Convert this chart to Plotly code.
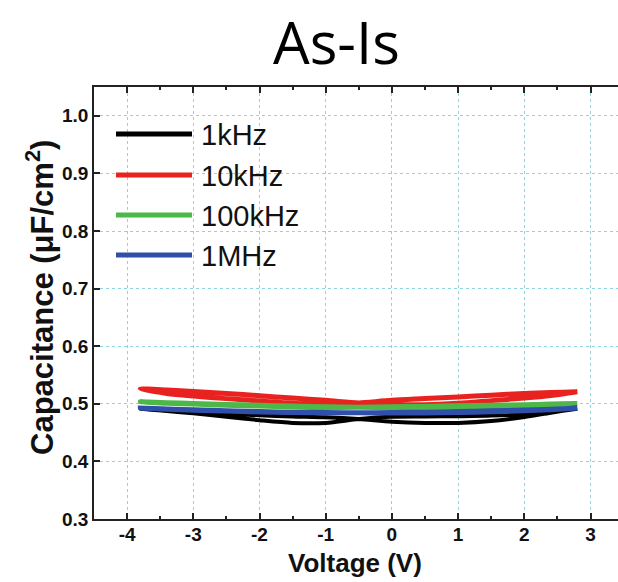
import plotly.graph_objects as go

# ---------------- data ----------------
voltage = [-3.8, -3.4, -3.0, -2.5, -2.0, -1.5, -1.0, -0.5, 0.0, 0.5, 1.0, 1.5, 2.0, 2.4, 2.8]

# each frequency: sweep A (upper on left side, lower on right) and sweep B (lower left, upper right)
c_1k_a = [0.4915, 0.4890, 0.4865, 0.4830, 0.4800, 0.4780, 0.4765, 0.4735, 0.4690, 0.4668, 0.4668, 0.4700, 0.4770, 0.4845, 0.4915]
c_1k_b = [0.4915, 0.4875, 0.4835, 0.4775, 0.4715, 0.4668, 0.4668, 0.4735, 0.4775, 0.4780, 0.4785, 0.4795, 0.4825, 0.4865, 0.4915]

c_10k_a = [0.5256, 0.5240, 0.5215, 0.5180, 0.5140, 0.5100, 0.5060, 0.5015, 0.4990, 0.4985, 0.5010, 0.5055, 0.5100, 0.5145, 0.5210]
c_10k_b = [0.5256, 0.5180, 0.5135, 0.5090, 0.5050, 0.5010, 0.4985, 0.5015, 0.5060, 0.5090, 0.5120, 0.5150, 0.5180, 0.5195, 0.5210]

c_100k_a = [0.5035, 0.5020, 0.5005, 0.4990, 0.4975, 0.4960, 0.4950, 0.4940, 0.4935, 0.4935, 0.4940, 0.4950, 0.4965, 0.4980, 0.5005]
c_100k_b = [0.5035, 0.5010, 0.4995, 0.4975, 0.4960, 0.4945, 0.4935, 0.4940, 0.4950, 0.4955, 0.4965, 0.4975, 0.4985, 0.4995, 0.5005]

c_1m_a = [0.4925, 0.4910, 0.4895, 0.4880, 0.4865, 0.4855, 0.4848, 0.4843, 0.4840, 0.4842, 0.4848, 0.4860, 0.4878, 0.4898, 0.4925]
c_1m_b = [0.4925, 0.4905, 0.4890, 0.4873, 0.4858, 0.4848, 0.4843, 0.4843, 0.4848, 0.4855, 0.4865, 0.4878, 0.4893, 0.4905, 0.4925]

series_names = ["1kHz", "10kHz", "100kHz", "1MHz"]
series_colors = ["#000000", "#e8231f", "#4db848", "#2f4fa8"]
series_a = [c_1k_a, c_10k_a, c_100k_a, c_1m_a]
series_b = [c_1k_b, c_10k_b, c_100k_b, c_1m_b]
series_widths = [4, 5, 5, 5]

x_tickvals = [-4, -3, -2, -1, 0, 1, 2, 3]
x_ticktext = ["-4", "-3", "-2", "-1", "0", "1", "2", "3"]
y_tickvals = [0.3, 0.4, 0.5, 0.6, 0.7, 0.8, 0.9, 1.0]
y_ticktext = ["0.3", "0.4", "0.5", "0.6", "0.7", "0.8", "0.9", "1.0"]

# ---------------- figure ----------------
fig = go.Figure()
for name, col, ca, cb, w in zip(series_names, series_colors, series_a, series_b, series_widths):
    xs = voltage + voltage[::-1]
    ys = ca + cb[::-1]
    fig.add_trace(go.Scatter(x=xs, y=ys, mode="lines", name=name,
                             line=dict(color=col, width=w, shape="spline", smoothing=0.8),
                             showlegend=False))

W, H = 618, 582
L, R, T, B = 94, 0, 87, 63
pw, ph = W - L - R, H - T - B

def px(xp):
    return (xp - L) / pw

def py(yp):
    return (H - B - yp) / ph

# manual legend (long line samples like the original)
leg_rows = [134, 175, 215, 255]
for name, col, yy in zip(series_names, series_colors, leg_rows):
    fig.add_shape(type="line", xref="paper", yref="paper",
                  x0=px(116), x1=px(192), y0=py(yy), y1=py(yy),
                  line=dict(color=col, width=5))
    fig.add_annotation(xref="paper", yref="paper", x=px(199), y=py(yy + 1),
                       text=name, showarrow=False, xanchor="left", yanchor="middle",
                       font=dict(family="Liberation Sans, Arial", size=29, color="#111111"))

# title
fig.add_annotation(xref="paper", yref="paper", x=px(336), y=py(42),
                   text="As-Is", showarrow=False, xanchor="center", yanchor="middle",
                   font=dict(family="Open Sans", size=58, color="#000000"))
# axis titles
fig.add_annotation(xref="paper", yref="paper", x=px(40), y=py(298),
                   text="<b>Capacitance (μF/cm<sup>2</sup>)</b>", showarrow=False,
                   textangle=-90, xanchor="center", yanchor="middle",
                   font=dict(family="Liberation Sans, Arial", size=31, color="#111111"))
fig.add_annotation(xref="paper", yref="paper", x=px(355), y=py(563),
                   text="<b>Voltage (V)</b>", showarrow=False,
                   xanchor="center", yanchor="middle",
                   font=dict(family="Liberation Sans, Arial", size=26, color="#111111"))

tickfont = dict(family="Liberation Sans, Arial", size=19, color="#111111", weight="bold")
grid_col = "#8fd4e2"

fig.update_xaxes(range=[-4.5, -4.5 + pw / 66.2], tickvals=x_tickvals, ticktext=x_ticktext,
                 ticks="inside", ticklen=6, tickwidth=1.5, tickcolor="#222",
                 ticklabelstandoff=-3,
                 minor=dict(dtick=0.5, tick0=0, ticks="inside", ticklen=3, tickwidth=1.5,
                            tickcolor="#222", showgrid=False),
                 showline=True, linecolor="#222", linewidth=1.8, mirror="ticks",
                 showgrid=True, gridcolor=grid_col, griddash="dot", gridwidth=1,
                 zeroline=False, tickfont=tickfont, fixedrange=True)
fig.update_yaxes(range=[0.3, 1.05], tickvals=y_tickvals, ticktext=y_ticktext,
                 ticks="inside", ticklen=6, tickwidth=1.5, tickcolor="#222",
                 showline=True, linecolor="#222", linewidth=1.8, mirror=False,
                 showgrid=True, gridcolor=grid_col, griddash="dot", gridwidth=1,
                 zeroline=False, tickfont=tickfont, fixedrange=True)

fig.update_layout(width=W, height=H, margin=dict(l=L, r=R, t=T, b=B),
                  paper_bgcolor="white", plot_bgcolor="white", showlegend=False)

fig.write_html("out.html")
